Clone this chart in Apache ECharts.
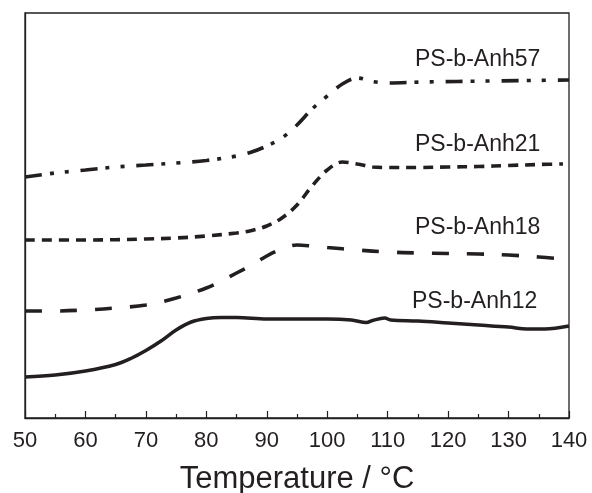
<!DOCTYPE html>
<html>
<head>
<meta charset="utf-8">
<script src="https://cdn.jsdelivr.net/npm/echarts@6/dist/echarts.min.js"></script>
<style>
html,body{margin:0;padding:0;background:#fff;}
#chart{width:592px;height:493px;}
</style>
</head>
<body>
<div id="chart"></div>
<script>
// x-axis ticks
const xTicks = [50, 60, 70, 80, 90, 100, 110, 120, 130, 140];
const seriesNames = ['PS-b-Anh12', 'PS-b-Anh18', 'PS-b-Anh21', 'PS-b-Anh57'];

// PS-b-Anh12 (heat flow, arbitrary units, offset)
const temps12 = [50, 55, 60, 65, 67.5, 70, 72.5, 75, 77.5, 80, 82.5, 85, 90, 95, 100, 104, 106.5, 107.5, 109.5, 110.5, 115, 120, 125, 130, 133, 136, 140];
const vals12  = [41, 43, 47, 53.5, 59.5, 67.5, 77, 88, 96, 99.5, 100.5, 100.5, 99, 99, 99, 98, 95.5, 97.5, 100, 98, 97, 95, 93, 91, 89, 89, 92];

// PS-b-Anh18
const temps18 = [50, 55, 60, 65, 70, 75, 80, 82.5, 85, 87.5, 90, 92.5, 95, 97.5, 100, 105, 110, 115, 120, 125, 130, 135, 138];
const vals18  = [107, 107, 108, 110, 113, 120, 130, 137, 145, 153, 162, 169, 173, 172, 170.5, 168, 166, 165, 164.5, 164, 163, 161, 159.5];

// PS-b-Anh21
const temps21 = [50, 60, 70, 75, 80, 85, 87.5, 90, 92.5, 95, 97.5, 100, 102.5, 105, 107.5, 110, 115, 120, 125, 130, 135, 139];
const vals21  = [178, 178, 179, 180, 182, 185, 187.5, 192, 200, 213, 232, 248, 256, 254, 251, 250.5, 250.5, 251, 251.5, 252.5, 253.5, 254];

// PS-b-Anh57
const temps57 = [50, 55, 60, 65, 70, 75, 80, 85, 87.5, 90, 92.5, 95, 97.5, 100, 102.5, 105, 107.5, 110, 116, 127, 140];
const vals57  = [241, 245, 248, 251, 253, 255, 257.5, 262, 266, 272, 280, 293, 309, 322, 334, 340, 336.5, 335, 336, 337, 338];

const ink = '#231f20';
const zip = (xs, ys) => xs.map((x, i) => [x, ys[i]]);

const chart = echarts.init(document.getElementById('chart'), null, {renderer: 'canvas'});

function lineSeries(name, xs, ys, dash, width) {
  return {
    name: name,
    type: 'line',
    data: zip(xs, ys),
    smooth: 0.35,
    showSymbol: false,
    symbol: 'none',
    lineStyle: {color: ink, width: width, type: dash, cap: 'butt'},
    z: 3
  };
}

const labels = [
  {text: seriesNames[3], x: 415, y: 60},
  {text: seriesNames[2], x: 415, y: 145},
  {text: seriesNames[1], x: 415, y: 228},
  {text: seriesNames[0], x: 412, y: 302}
];

chart.setOption({
  animation: false,
  backgroundColor: '#fff',
  grid: {left: 25, right: 23, top: 13, bottom: 75, outerBoundsMode: 'none', containLabel: false, show: true, borderColor: ink, borderWidth: 1.3, backgroundColor: 'transparent'},
  xAxis: {
    type: 'value',
    min: xTicks[0],
    max: xTicks[xTicks.length - 1],
    interval: 10,
    name: 'Temperature / \u00B0C',
    nameLocation: 'middle',
    nameGap: 46,
    nameTextStyle: {fontFamily: 'Liberation Sans', fontSize: 31, color: ink},
    axisLine: {show: true, lineStyle: {color: ink, width: 1.3}},
    axisTick: {show: true, inside: true, length: 7, lineStyle: {color: ink, width: 1.2}},
    minorTick: {show: true, splitNumber: 2, length: 4, lineStyle: {color: ink, width: 1.2}},
    axisLabel: {fontFamily: 'Liberation Sans', fontSize: 22, color: ink, margin: 12},
    splitLine: {show: false}
  },
  yAxis: {
    type: 'value',
    min: 0,
    max: 405,
    axisLine: {show: true, lineStyle: {color: ink, width: 1.3}},
    axisTick: {show: false},
    axisLabel: {show: false},
    splitLine: {show: false}
  },
  series: [
    lineSeries(seriesNames[0], temps12, vals12, 'solid', 3.5),
    lineSeries(seriesNames[1], temps18, vals18, [17, 18], 3.6),
    lineSeries(seriesNames[2], temps21, vals21, [10, 7], 3.6),
    lineSeries(seriesNames[3], temps57, vals57, [17, 8, 4, 11, 4, 12], 3.6)
  ],
  graphic: labels.map(l => ({
    type: 'text',
    x: l.x,
    y: l.y,
    style: {text: l.text, fill: ink, font: '23px "Liberation Sans"', align: 'left', verticalAlign: 'middle'}
  }))
});
</script>
</body>
</html>
